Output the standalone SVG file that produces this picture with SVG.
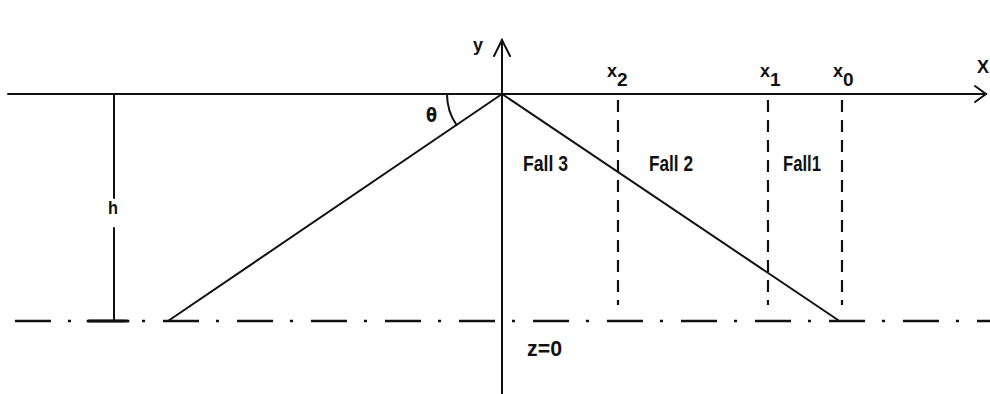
<svg xmlns="http://www.w3.org/2000/svg" width="990" height="394" viewBox="0 0 990 394">
<style>
.ln{stroke:#111;stroke-width:2;fill:none;stroke-linecap:round}
.dash{stroke:#111;stroke-width:2.2;fill:none;stroke-dasharray:12 8}
.dd{stroke:#111;stroke-width:2.5;fill:none;stroke-dasharray:36 17 3 18}
.t{font-family:"Liberation Sans",Arial,sans-serif;font-weight:bold;fill:#111;font-size:18px}
.f{font-size:22px}
</style>
<rect width="990" height="394" fill="#fff"/>
<g id="connectors">
<line class="ln" x1="8" y1="94" x2="986" y2="94"/>
<polyline class="ln" points="975,86 986,94 975,102"/>
<line class="ln" x1="502" y1="40" x2="502" y2="394"/>
<polyline class="ln" points="494,56 502,40 510,56"/>
<line class="ln" x1="502" y1="94" x2="168" y2="321"/>
<line class="ln" x1="502" y1="94" x2="838" y2="320"/>
<line class="dd" x1="15" y1="321" x2="990" y2="321"/>
<line class="ln" x1="114" y1="94" x2="114" y2="198"/>
<line class="ln" x1="114" y1="228" x2="114" y2="321"/>
<line class="ln" x1="88" y1="321" x2="128" y2="321" style="stroke-width:3"/>
<line class="dash" x1="618" y1="100" x2="618" y2="305"/>
<line class="dash" x1="768" y1="100" x2="768" y2="305"/>
<line class="dash" x1="842" y1="100" x2="842" y2="305"/>
<path class="ln" d="M447,94 A55,55 0 0 0 456.5,125"/>
</g>
<g id="labels">
<text class="t" x="473" y="51">y</text>
<text class="t" x="977" y="73" textLength="12" lengthAdjust="spacingAndGlyphs">X</text>
<text class="t" x="607" y="77">x<tspan dy="9" font-size="19">2</tspan></text>
<text class="t" x="760" y="77">x<tspan dy="9" font-size="19">1</tspan></text>
<text class="t" x="833" y="77">x<tspan dy="9" font-size="19">0</tspan></text>
<text class="t" x="426" y="122" style="font-family:'DejaVu Sans',sans-serif;font-size:19px" textLength="11" lengthAdjust="spacingAndGlyphs">θ</text>
<text class="t" x="108" y="214" font-size="19" textLength="10" lengthAdjust="spacingAndGlyphs">h</text>
<text class="t f" x="523" y="171" textLength="45" lengthAdjust="spacingAndGlyphs">Fall 3</text>
<text class="t f" x="649" y="171" textLength="44" lengthAdjust="spacingAndGlyphs">Fall 2</text>
<text class="t f" x="783" y="171" textLength="38" lengthAdjust="spacingAndGlyphs">Fall1</text>
<text class="t f" x="527" y="356" textLength="35" lengthAdjust="spacingAndGlyphs">z=0</text>
</g>
</svg>
